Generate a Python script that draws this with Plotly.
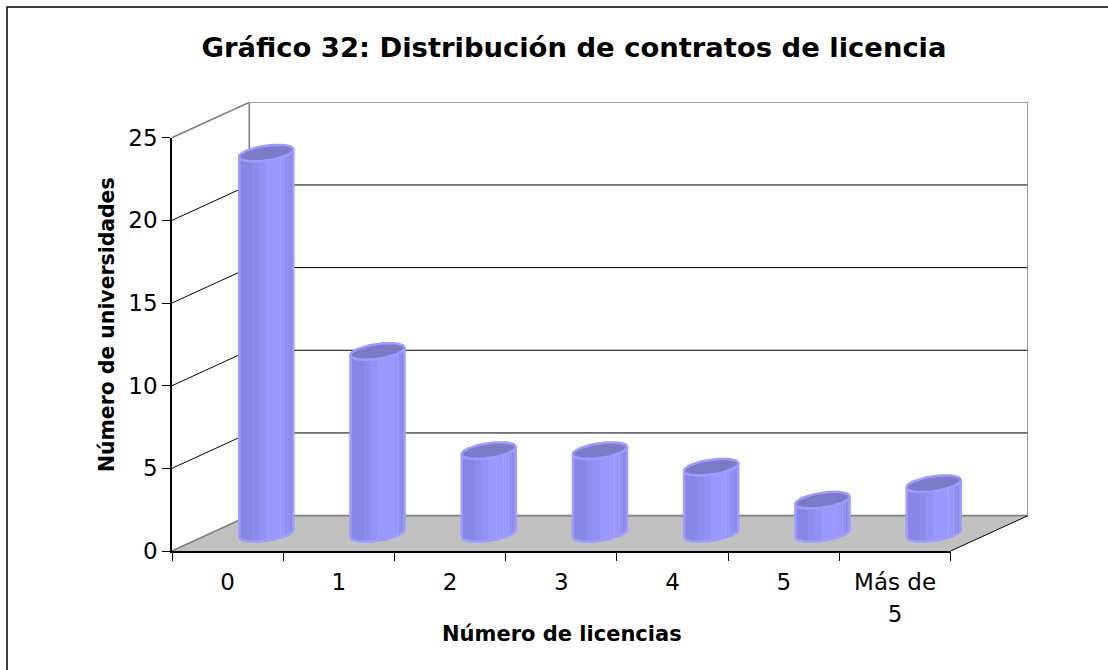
import numpy as np
import plotly.graph_objects as go

# ---- data ----
categories = ["0", "1", "2", "3", "4", "5", "Más de<br>5"]
universidades = [23, 11, 5, 5, 4, 2, 3]
value_ticks = [0, 5, 10, 15, 20, 25]
title_text = "Gráfico 32: Distribución de contratos de licencia"
x_title = "Número de licencias"
y_title = "Número de universidades"

# ---- layout constants (pixels of the 1108x670 picture) ----
W, H = 1108, 670
FRONT_L, FRONT_R, BACK_R = 172, 950.7, 1028
Y0, Y_TOP, Y_BACK_TOP = 551, 137.7, 102.3
px_cat = (FRONT_R - FRONT_L) / 7
px_val = (Y0 - Y_TOP) / 25
# depth of the oblique box, in axis units
DX = (BACK_R - FRONT_R) / px_cat
DY = (Y_TOP - Y_BACK_TOP) / px_val
x_lo, x_hi = -0.5, 6.5
LABEL_FONT = 23
FONT = "DejaVu Sans, Verdana, sans-serif"

fig = go.Figure()

def line(xs, ys, color, width=1.0):
    fig.add_trace(go.Scatter(x=xs, y=ys, mode="lines", xaxis="x2", yaxis="y2",
                             line=dict(color=color, width=width),
                             hoverinfo="skip", showlegend=False))

# floor
fig.add_trace(go.Scatter(
    x=[x_lo, x_lo + DX, x_hi + DX, x_hi, x_lo],
    y=[0, DY, DY, 0, 0], mode="lines", fill="toself", fillcolor="#C0C0C0",
    line=dict(color="rgba(0,0,0,0)", width=0), xaxis="x2", yaxis="y2",
    hoverinfo="skip", showlegend=False))
line([x_lo, x_lo + DX], [0, DY], "#808080", 1.6)
line([x_lo + DX, x_hi + DX], [DY, DY], "#808080", 1.6)
line([x_hi, x_hi + DX], [0, DY], "#000000", 1.0)

# walls and gridlines
for v in value_ticks[1:-1]:
    line([x_lo, x_lo + DX, x_hi + DX], [v, v + DY, v + DY], "#000000", 1.0)
top = value_ticks[-1]
line([x_lo, x_lo + DX, x_hi + DX, x_hi + DX], [top, top + DY, top + DY, DY], "#808080", 1.6)
line([x_lo + DX, x_lo + DX], [DY, top + DY], "#808080", 1.6)

# cylinders
A = 27.0 / px_cat       # half width
S = -3.0 / px_cat       # shear of the ellipse in x
K = 4.5 / px_val        # tilt of the ellipse in y
H_E = 7.0 / px_val      # half height of the ellipse
stripes = [
    (0.00, "#8686E4"), (0.24, "#8686E4"), (0.24, "#8C8CEC"), (0.36, "#8C8CEC"),
    (0.36, "#9292F4"), (0.49, "#9292F4"), (0.49, "#9999FF"), (0.76, "#9999FF"),
    (0.76, "#A6A6FF"), (0.775, "#A6A6FF"), (0.775, "#9898FC"), (0.84, "#9898FC"),
    (0.84, "#9292F2"), (0.855, "#9292F2"), (0.855, "#A0A0FF"), (0.87, "#A0A0FF"),
    (0.87, "#9090F0"), (0.93, "#9090F0"), (0.93, "#8A8AE8"), (1.00, "#8A8AE8"),
]
t = np.linspace(0, 2 * np.pi, 73)
for i, v in enumerate(universidades):
    cx = i + DX / 2
    base = DY / 2
    ex = A * np.cos(t) + S * np.sin(t)
    ey = K * np.cos(t) + H_E * np.sin(t)
    front = np.linspace(np.pi, 2 * np.pi, 37)
    fx = A * np.cos(front) + S * np.sin(front)
    fy = K * np.cos(front) + H_E * np.sin(front)
    bx = np.concatenate([cx + fx, (cx + fx)[::-1], [cx + fx[0]]])
    by = np.concatenate([base + fy, (base + v + fy)[::-1], [base + fy[0]]])
    fig.add_trace(go.Scatter(
        x=bx, y=by, mode="lines", fill="toself",
        fillgradient=dict(type="horizontal", colorscale=stripes),
        line=dict(color="#9C9CFF", width=2.5), xaxis="x2", yaxis="y2",
        hoverinfo="skip", showlegend=False))
    fig.add_trace(go.Scatter(
        x=cx + ex, y=base + v + ey, mode="lines", fill="toself", fillcolor="#7A7AC6",
        line=dict(color="#9C9CFF", width=2.5), xaxis="x2", yaxis="y2",
        hoverinfo="skip", showlegend=False))

def styled(label):
    return "<br>".join(f"<span style='font-size:{LABEL_FONT}px'>{p}</span>" for p in label.split("<br>"))

# invisible trace that keeps the labelled axes alive
fig.add_trace(go.Scatter(x=list(range(7)), y=universidades, mode="markers",
                         marker=dict(opacity=0), hoverinfo="skip", showlegend=False))

fig.update_layout(
    width=W, height=H, autosize=False,
    margin=dict(l=0, r=0, t=0, b=0, autoexpand=False),
    paper_bgcolor="white", plot_bgcolor="rgba(0,0,0,0)",
    font=dict(family=FONT, color="#000000"),
    title=dict(text=f"<b>{title_text}</b>", x=574 / W, xanchor="center", y=1 - 47 / H,
               yanchor="middle", font=dict(family=FONT, size=27.4, color="#000000")),
    xaxis=dict(domain=[FRONT_L / W, FRONT_R / W], range=[x_lo, x_hi],
               tickmode="array", tickvals=list(range(7)),
               ticktext=[styled(c) for c in categories],
               tickfont=dict(family=FONT, size=25), tickangle=0,
               ticks="", ticklabelstandoff=7,
               minor=dict(tickmode="array", tickvals=[k - 0.5 for k in range(8)],
                          ticks="outside", ticklen=8, tickcolor="#000000", tickwidth=1, showgrid=False),
               showline=True, linecolor="#000000", linewidth=1.5, showgrid=False, zeroline=False,
               fixedrange=True),
    yaxis=dict(domain=[1 - Y0 / H, 1 - Y_TOP / H], range=[0, 25],
               tickmode="array", tickvals=value_ticks,
               tickfont=dict(family=FONT, size=LABEL_FONT),
               ticks="outside", ticklen=8, tickcolor="#000000", tickwidth=1,
               showline=True, linecolor="#000000", linewidth=1.5, showgrid=False, zeroline=False,
               fixedrange=True),
    xaxis2=dict(domain=[FRONT_L / W, BACK_R / W], range=[x_lo, x_hi + DX],
                anchor="y2", visible=False, fixedrange=True),
    yaxis2=dict(domain=[1 - Y0 / H, 1 - Y_BACK_TOP / H], range=[0, top + DY],
                anchor="x2", visible=False, fixedrange=True),
    annotations=[
        dict(text=f"<b>{x_title}</b>", xref="paper", yref="paper", x=562 / W, y=1 - 634 / H,
             showarrow=False, xanchor="center", yanchor="middle",
             font=dict(family=FONT, size=21)),
        dict(text=f"<b>{y_title}</b>", xref="paper", yref="paper", x=107 / W, y=1 - 325 / H,
             showarrow=False, textangle=-90, xanchor="center", yanchor="middle",
             font=dict(family=FONT, size=20.4)),
    ],
    shapes=[dict(type="path", xref="paper", yref="paper",
                 path=f"M {7 / W} 0 L {7 / W} {1 - 7 / H} L 1 {1 - 7 / H}",
                 line=dict(color="#000000", width=1.5))],
)

fig.write_html("out.html", config={"displayModeBar": False},
               post_script="document.body.style.margin='0';")
